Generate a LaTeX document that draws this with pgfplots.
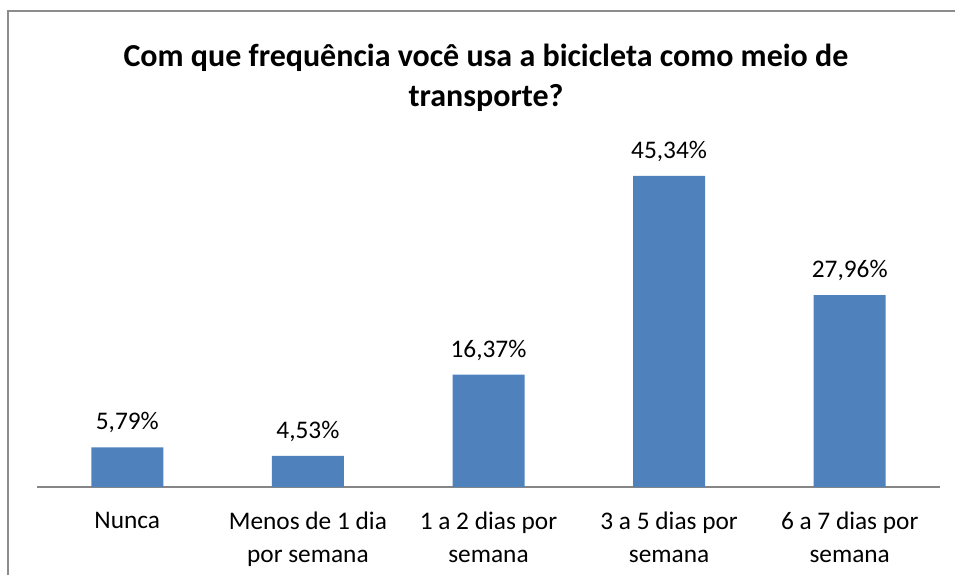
\documentclass[border=0pt]{standalone}
\usepackage{fontspec}
\setmainfont{Carlito}
\usepackage{pgfplots}
\pgfplotsset{compat=1.18}
\definecolor{barblue}{HTML}{4F81BD}
\definecolor{axisgray}{HTML}{868686}
\definecolor{framegray}{HTML}{8C8C8C}

\begin{document}
\begin{tikzpicture}[x=0.75pt,y=0.75pt]
\path[use as bounding box] (0,0) rectangle (955,575);
\draw[framegray,line width=1.5pt] (8,0) -- (8,564) -- (955,564);
\node[align=center,font=\fontsize{24}{30}\selectfont\bfseries] at (486,497)
  {Com que frequência você usa a bicicleta como meio de\\transporte?};
\begin{axis}[
  at={(27.75pt,66pt)}, anchor=south west,
  width=677.25pt, height=257.25pt, scale only axis,
  ybar, bar width=54pt,
  ymin=0, ymax=50, xmin=-0.5, xmax=4.5,
  axis x line*=bottom, axis y line=none,
  x axis line style={axisgray,line width=1.2pt,-},
  xtick=data, major tick length=0pt,
  xticklabels={{Nunca},{Menos de 1 dia\\por semana},{1 a 2 dias por\\semana},{3 a 5 dias por\\semana},{6 a 7 dias por\\semana}},
  xticklabel style={align=center,font=\fontsize{19}{24.75}\selectfont,yshift=-15.5pt},
  /pgf/number format/assume math mode=true,
  nodes near coords={\pgfmathprintnumber[fixed,fixed zerofill,precision=2,use comma,assume math mode=true]{\pgfplotspointmeta}\%},
  nodes near coords style={font=\fontsize{19}{22}\selectfont,black,yshift=7pt},
  clip=false,
]
\addplot[draw=none,fill=barblue] coordinates {(0,5.79) (1,4.53) (2,16.37) (3,45.34) (4,27.96)};
\end{axis}
\end{tikzpicture}
\end{document}
